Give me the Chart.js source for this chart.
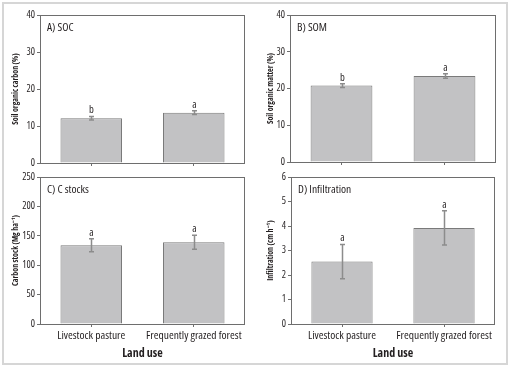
<!DOCTYPE html>
<html>
<head>
<meta charset="utf-8">
<script src="https://cdn.jsdelivr.net/npm/chart.js@4.4.1/dist/chart.umd.min.js"></script>
<style>
html, body { margin: 0; padding: 0; background: #fff; }
#fig { position: relative; width: 510px; height: 367px; overflow: hidden; background: #fff; }
#frame { position: absolute; left: 2px; top: 2px; width: 506px; height: 363px; box-sizing: border-box; border: 2px solid #d6d6d6; }
.panel { position: absolute; }
</style>
</head>
<body>
<div id="fig">
  <div id="frame"></div>
  <div class="panel" style="left:0;top:0;width:255px;height:170px"><canvas id="chartA"></canvas></div>
  <div class="panel" style="left:255px;top:0;width:255px;height:170px"><canvas id="chartB"></canvas></div>
  <div class="panel" style="left:0;top:170px;width:255px;height:197px"><canvas id="chartC"></canvas></div>
  <div class="panel" style="left:255px;top:170px;width:255px;height:197px"><canvas id="chartD"></canvas></div>
</div>
<script>
// data
var landUse = ['Livestock pasture', 'Frequently grazed forest'];

var socMean = [12.1, 13.6];
var socErr = [0.5, 0.5];
var socLetters = ['b', 'a'];

var somMean = [20.8, 23.4];
var somErr = [0.5, 0.6];
var somLetters = ['b', 'a'];

var stockMean = [134, 139];
var stockErr = [11, 12];
var stockLetters = ['a', 'a'];

var infilMean = [2.55, 3.92];
var infilErr = [0.7, 0.7];
var infilLetters = ['a', 'a'];

// Open Sans has a condensed width axis; chart.js passes the weight string straight into ctx.font
var FONT = "'Open Sans', sans-serif";
var INK = '#231f20';
var AXIS = '#6e6e6e';

function makePanel(id, p) {
    var decor = {
        id: 'decor_' + id,
        afterDatasetsDraw: function(chart) {
            var ctx = chart.ctx, area = chart.chartArea, y = chart.scales.y;
            var meta = chart.getDatasetMeta(0);
            ctx.save();
            meta.data.forEach(function(bar, i) {
                var x = Math.round(bar.x) + 0.5;
                var top = y.getPixelForValue(p.values[i] + p.errors[i]);
                var bot = y.getPixelForValue(p.values[i] - p.errors[i]);
                ctx.strokeStyle = '#8c8c8c';
                ctx.lineWidth = 1.5;
                ctx.beginPath();
                ctx.moveTo(x, top); ctx.lineTo(x, bot);
                ctx.moveTo(x - 2.5, top); ctx.lineTo(x + 2.5, top);
                ctx.moveTo(x - 2.5, bot); ctx.lineTo(x + 2.5, bot);
                ctx.stroke();
                ctx.fillStyle = INK;
                ctx.font = 'condensed 10.5px ' + FONT;
                ctx.textAlign = 'center';
                ctx.textBaseline = 'alphabetic';
                ctx.fillText(p.letters[i], x, top - 3);
            });
            ctx.strokeStyle = AXIS;
            ctx.lineWidth = 1;
            ctx.strokeRect(area.left + 0.5, area.top + 0.5, area.right - area.left - 1, area.bottom - area.top);
            ctx.fillStyle = INK;
            ctx.font = 'semi-condensed 11.5px ' + FONT;
            ctx.textAlign = 'left';
            ctx.textBaseline = 'alphabetic';
            ctx.fillText(p.label, area.left + 7, area.top + 16);
            ctx.restore();
        }
    };

    return new Chart(document.getElementById(id), {
        type: 'bar',
        data: {
            labels: landUse,
            datasets: [{
                data: p.values,
                backgroundColor: '#c2c2c4',
                borderColor: '#7a7a7a',
                borderWidth: 1,
                barPercentage: 0.6,
                categoryPercentage: 1
            }]
        },
        options: {
            animation: false,
            responsive: true,
            maintainAspectRatio: false,
            layout: { padding: { top: p.top, right: p.right, left: 0, bottom: p.padBottom } },
            plugins: { legend: { display: false }, tooltip: { enabled: false } },
            scales: {
                x: {
                    grid: { drawOnChartArea: false, tickLength: 3, color: AXIS, offset: false },
                    border: { display: false },
                    ticks: {
                        display: p.showX, padding: 2, color: INK, maxRotation: 0, minRotation: 0, autoSkip: false,
                        font: { family: FONT, size: 11.5, weight: 'condensed' }
                    },
                    title: {
                        display: p.showX,
                        text: 'Land use',
                        color: INK,
                        font: { family: FONT, size: 12, weight: 'bold condensed' },
                        padding: { top: 0, bottom: 6 }
                    },
                    afterFit: function(s) { s.height = p.xHeight; s.paddingLeft = 0; s.paddingRight = 0; }
                },
                y: {
                    min: 0,
                    max: p.max,
                    ticks: { stepSize: p.step, padding: 2, color: INK, font: { family: FONT, size: 10, weight: 'condensed' } },
                    grid: { drawOnChartArea: false, tickLength: 3, color: AXIS },
                    border: { display: false },
                    title: {
                        display: true,
                        text: p.yTitle,
                        color: INK,
                        font: { family: FONT, size: 8, weight: 'bold condensed' },
                        padding: { top: 11, bottom: 0 }
                    },
                    afterFit: function(s) { s.width = p.yWidth; s.paddingTop = 0; s.paddingBottom = 0; }
                }
            }
        },
        plugins: [decor]
    });
}

makePanel('chartA', {
    values: socMean, errors: socErr, letters: socLetters, label: 'A) SOC',
    yTitle: 'Soil organic carbon (%)', max: 40, step: 10,
    top: 15, right: 10, padBottom: 3, xHeight: 4, yWidth: 40, showX: false
});
makePanel('chartB', {
    values: somMean, errors: somErr, letters: somLetters, label: 'B) SOM',
    yTitle: 'Soil organic matter (%)', max: 40, step: 10,
    top: 15, right: 14, padBottom: 4, xHeight: 4, yWidth: 35, showX: false
});
makePanel('chartC', {
    values: stockMean, errors: stockErr, letters: stockLetters, label: 'C) C stocks',
    yTitle: 'Carbon stock (Mg ha\u207B\u00B9)', max: 250, step: 50,
    top: 7, right: 10, padBottom: 0, xHeight: 43, yWidth: 40, showX: true
});
makePanel('chartD', {
    values: infilMean, errors: infilErr, letters: infilLetters, label: 'D) Infiltration',
    yTitle: 'Infiltration (cm h\u207B\u00B9)', max: 6, step: 1,
    top: 7, right: 15, padBottom: 0, xHeight: 43, yWidth: 36, showX: true
});
</script>
</body>
</html>
